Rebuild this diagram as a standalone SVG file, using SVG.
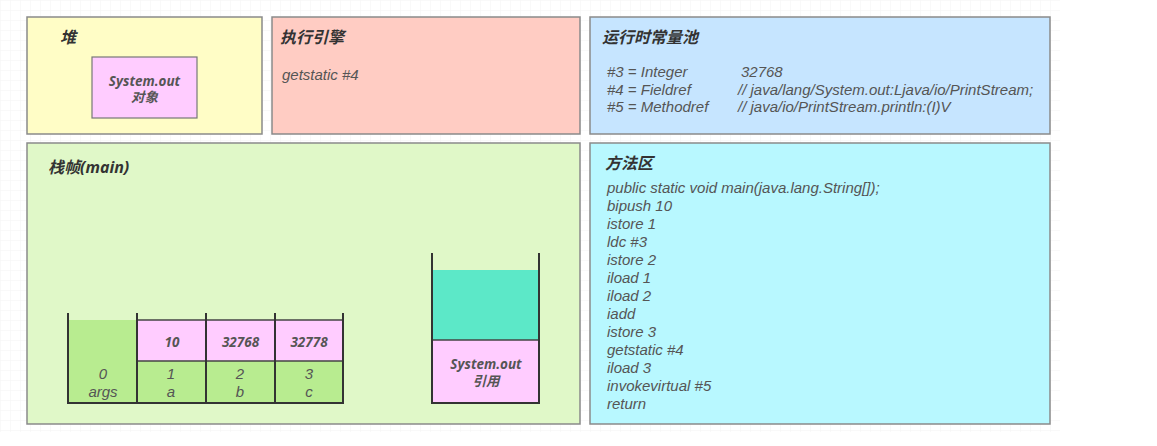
<svg xmlns="http://www.w3.org/2000/svg" width="1157" height="446" viewBox="0 0 1157 446">
<defs>
<pattern id="grid" width="10" height="10" patternUnits="userSpaceOnUse">
<path d="M10 0 L0 0 0 10" fill="none" stroke="#f3f3f3" stroke-width="1"/>
</pattern>
</defs>
<style>
.panel{stroke:#8a8a8a;stroke-width:1.5}
.title{font-family:"Open Sans","Noto Sans CJK SC",sans-serif;font-size:16px;font-weight:bold;font-style:italic;fill:#333}
.txt{font-family:"Liberation Sans","Noto Sans CJK SC",sans-serif;font-size:15px;font-style:italic;fill:#555}
.cell{font-family:"Liberation Sans","Noto Sans CJK SC",sans-serif;font-size:15px;font-style:italic;fill:#555;text-anchor:middle}
.bcell{font-family:"Open Sans","Noto Sans CJK SC",sans-serif;font-size:13.5px;font-weight:bold;font-style:italic;fill:#555;text-anchor:middle}
.wall{stroke:#333;stroke-width:2;fill:none}
.div{stroke:#444;stroke-width:1.5}
</style>
<rect width="1157" height="446" fill="#fff"/>
<rect x="0" y="0" width="1060" height="432" fill="url(#grid)"/>

<g id="heap">
<rect class="panel" x="27" y="17" width="235" height="117" fill="#fffdc6"/>
<text class="title" x="60" y="43">堆</text>
<rect x="92" y="57" width="105" height="61" fill="#ffccff" stroke="#777" stroke-width="1.2"/>
<text class="bcell" x="144.5" y="86">System.out</text>
<text class="bcell" x="144.5" y="102">对象</text>
</g>

<g id="engine">
<rect class="panel" x="272" y="17" width="308" height="117" fill="#ffccc3"/>
<text class="title" x="280" y="43">执行引擎</text>
<text class="txt" x="282" y="80">getstatic #4</text>
</g>

<g id="pool">
<rect class="panel" x="590" y="17" width="460" height="117" fill="#c6e5ff"/>
<text class="title" x="602" y="43">运行时常量池</text>
<text class="txt" x="607" y="77">#3 = Integer</text>
<text class="txt" x="741" y="77">32768</text>
<text class="txt" x="607" y="94.5">#4 = Fieldref</text>
<text class="txt" x="738" y="94.5">// java/lang/System.out:Ljava/io/PrintStream;</text>
<text class="txt" x="607" y="112">#5 = Methodref</text>
<text class="txt" x="738" y="112">// java/io/PrintStream.println:(I)V</text>
</g>

<g id="frame">
<rect class="panel" x="27" y="143" width="553" height="281" fill="#e0f8c8"/>
<text class="title" x="48" y="173">栈帧(main)</text>
</g>

<g id="locals">
<rect x="69" y="320" width="68" height="83" fill="#b8ec90"/>
<rect x="137" y="320" width="206" height="41" fill="#ffccff"/>
<rect x="137" y="361" width="206" height="42" fill="#b8ec90"/>
<line class="div" x1="137" y1="320" x2="343" y2="320"/>
<line class="div" x1="137" y1="361" x2="343" y2="361"/>
<line class="wall" x1="137" y1="313" x2="137" y2="403"/>
<line class="wall" x1="206" y1="313" x2="206" y2="403"/>
<line class="wall" x1="275" y1="313" x2="275" y2="403"/>
<path class="wall" d="M68 313 L68 403 L343 403 L343 313"/>
<text class="bcell" x="172" y="347">10</text>
<text class="bcell" x="240.5" y="347">32768</text>
<text class="bcell" x="309" y="347">32778</text>
<text class="cell" x="103" y="379">0</text>
<text class="cell" x="103" y="397">args</text>
<text class="cell" x="171" y="379">1</text>
<text class="cell" x="171" y="397">a</text>
<text class="cell" x="240" y="379">2</text>
<text class="cell" x="240" y="397">b</text>
<text class="cell" x="309" y="379">3</text>
<text class="cell" x="309" y="397">c</text>
</g>

<g id="operand">
<rect x="433" y="270" width="106" height="70" fill="#5ce8c8"/>
<rect x="433" y="340" width="106" height="63" fill="#ffccff"/>
<line class="div" x1="433" y1="340" x2="539" y2="340"/>
<path class="wall" d="M432 253 L432 403 L539 403 L539 253"/>
<text class="bcell" x="486" y="369">System.out</text>
<text class="bcell" x="486" y="386">引用</text>
</g>

<g id="method">
<rect class="panel" x="590" y="143" width="460" height="281" fill="#b8f8ff"/>
<text class="title" x="605" y="169">方法区</text>
<text class="txt" x="607" y="193">public static void main(java.lang.String[]);</text>
<text class="txt" x="607" y="211">bipush 10</text>
<text class="txt" x="607" y="229">istore 1</text>
<text class="txt" x="607" y="247">ldc #3</text>
<text class="txt" x="607" y="265">istore 2</text>
<text class="txt" x="607" y="283">iload 1</text>
<text class="txt" x="607" y="301">iload 2</text>
<text class="txt" x="607" y="319">iadd</text>
<text class="txt" x="607" y="337">istore 3</text>
<text class="txt" x="607" y="355">getstatic #4</text>
<text class="txt" x="607" y="373">iload 3</text>
<text class="txt" x="607" y="391">invokevirtual #5</text>
<text class="txt" x="607" y="409">return</text>
</g>

<g id="connectors"></g>
</svg>
